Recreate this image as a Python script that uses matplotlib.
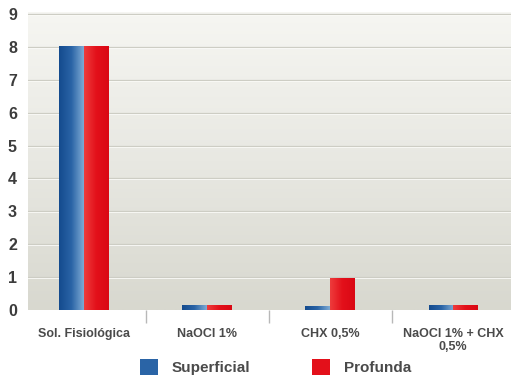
import numpy as np
import matplotlib.pyplot as plt
from matplotlib.colors import LinearSegmentedColormap
from matplotlib.patches import Patch

categories = ['Sol. Fisiológica', 'NaOCl 1%', 'CHX 0,5%', 'NaOCl 1% + CHX\n0,5%']
superficial = [8.0, 0.15, 0.1, 0.15]
profunda = [8.0, 0.15, 0.97, 0.15]
yticks = list(range(10))

plt.rcParams['font.family'] = ['Liberation Sans', 'DejaVu Sans']

fig = plt.figure(figsize=(5.11, 3.75), dpi=100)
ax = fig.add_axes([28 / 511, 1 - 310 / 375, 483 / 511, 298 / 375])

# background gradient of the plot area
bg = LinearSegmentedColormap.from_list('bg', ['#d8d8cf', '#e8e8e2', '#f6f6f2'])
ax.imshow(np.linspace(0, 1, 256).reshape(-1, 1)[::-1], cmap=bg, aspect='auto',
          extent=[0, 1, 0, 1], transform=ax.transAxes, zorder=0)

blue_cm = LinearSegmentedColormap.from_list('b', ['#144b8e', '#2a64a6', '#7eaad4'])
red_cm = LinearSegmentedColormap.from_list('r', ['#ee3c3c', '#e3101a', '#da0814'])

x = np.arange(len(categories))
w = 0.2
b1 = ax.bar(x - w / 2, superficial, w, color='none', zorder=3)
b2 = ax.bar(x + w / 2, profunda, w, color='none', zorder=3)

grad = np.linspace(0, 1, 64).reshape(1, -1)
for bars, cm in ((b1, blue_cm), (b2, red_cm)):
    for r in bars:
        x0, y0 = r.get_x(), r.get_y()
        ax.imshow(grad, cmap=cm, aspect='auto', zorder=3,
                  extent=[x0, x0 + r.get_width(), y0, y0 + r.get_height()])

ax.set_xlim(-0.455, 3.47)
ax.set_ylim(0, 9.06)

for v in yticks[1:]:
    ax.axhline(v, color='#cdcdc4', lw=0.9, zorder=1)
    ax.axhline(v - 0.03, color='#fbfbf8', lw=0.6, zorder=1)

ax.set_yticks(yticks)
ax.set_yticklabels([str(v) for v in yticks], fontsize=11.5, fontweight='bold', color='#3c3c3c')
ax.tick_params(axis='y', length=0, pad=8)

ax.set_xticks(x)
ax.set_xticklabels(categories, fontsize=9, fontweight='bold', color='#4a4a4a',
                   linespacing=1.15)
ax.set_xticks([0.5, 1.5, 2.5], minor=True)
ax.tick_params(axis='x', which='major', length=0, pad=13)
ax.tick_params(axis='x', which='minor', length=9, width=1, color='#b8b8b8')

for s in ax.spines.values():
    s.set_visible(False)

handles = [Patch(facecolor='#2a64a6', label='Superficial'),
           Patch(facecolor='#e3101a', label='Profunda')]
fig.legend(handles=handles, loc='upper left', bbox_to_anchor=(140 / 511, 1 - 359 / 375),
           ncol=2, frameon=False, borderpad=0, borderaxespad=0,
           prop={'size': 11, 'weight': 'bold'},
           handlelength=1.2, handleheight=1.2, handletextpad=0.9, columnspacing=4.0,
           labelcolor='#4a4a4a')

fig.savefig('out.png', dpi=100)
